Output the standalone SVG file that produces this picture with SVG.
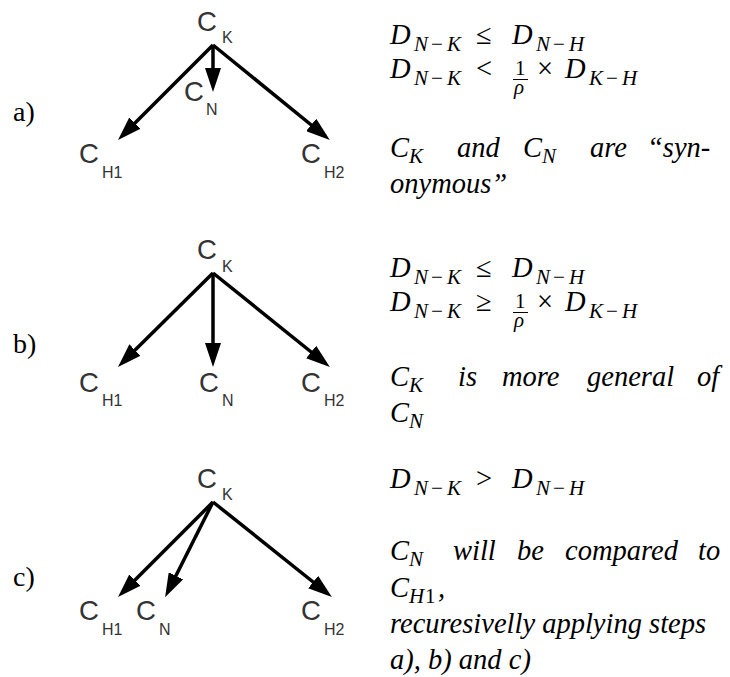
<svg xmlns="http://www.w3.org/2000/svg" width="730" height="677" viewBox="0 0 730 677">
<style>
.n{font-family:"Liberation Sans",Arial,sans-serif;fill:#333;font-size:27.5px}
.ns{font-family:"Liberation Sans",Arial,sans-serif;fill:#333;font-size:16px}
.lab{font-family:"Liberation Serif","Times New Roman",serif;font-size:28px;fill:#000}
.it{font-family:"Liberation Serif","Times New Roman",serif;font-style:italic;font-size:28.5px;fill:#000}
.sb{font-family:"Liberation Serif","Times New Roman",serif;font-style:italic;font-size:21px;fill:#000}
.sm{font-family:"Liberation Serif","Times New Roman",serif;font-size:21px;fill:#000}
.up{font-family:"Liberation Serif","Times New Roman",serif;font-size:28.5px;fill:#000}
.fr{font-family:"Liberation Serif","Times New Roman",serif;font-size:21px;fill:#000}
.e{stroke:#000;stroke-width:3.5;fill:none;marker-end:url(#ah)}
</style>
<defs>
<marker id="ah" viewBox="0 0 24 16" refX="12" refY="8" markerWidth="24" markerHeight="16" orient="auto" markerUnits="userSpaceOnUse"><path d="M0,0 L24,8 L0,16 z" fill="#000"/></marker>
</defs>
<rect width="730" height="677" fill="#fff"/>

<!-- panel labels -->
<text class="lab" x="13" y="121">a)</text>
<text class="lab" x="13" y="353">b)</text>
<text class="lab" x="13" y="586">c)</text>

<!-- Panel a -->
<g id="a-CK"><text class="n" x="197" y="31">C</text><text class="ns" x="222" y="43">K</text></g>
<g id="a-CN"><text class="n" x="184" y="101">C</text><text class="ns" x="206" y="115">N</text></g>
<g id="a-CH1"><text class="n" x="79" y="163">C</text><text class="ns" x="102" y="178">H1</text></g>
<g id="a-CH2"><text class="n" x="301" y="163">C</text><text class="ns" x="324" y="178">H2</text></g>
<g id="a-edges">
<path class="e" d="M213,45 L126.5,131.5"/>
<path class="e" d="M213,45 L213,80"/>
<path class="e" d="M213,45 L320.5,132.5"/>
</g>

<!-- Panel b -->
<g id="b-CK"><text class="n" x="197" y="259">C</text><text class="ns" x="222" y="272">K</text></g>
<g id="b-CH1"><text class="n" x="79" y="392">C</text><text class="ns" x="102" y="406">H1</text></g>
<g id="b-CN"><text class="n" x="199" y="392">C</text><text class="ns" x="222" y="406">N</text></g>
<g id="b-CH2"><text class="n" x="301" y="392">C</text><text class="ns" x="324" y="406">H2</text></g>
<g id="b-edges">
<path class="e" d="M213,273 L126.5,358.5"/>
<path class="e" d="M213,273 L213,355"/>
<path class="e" d="M213,273 L320.5,359.5"/>
</g>

<!-- Panel c -->
<g id="c-CK"><text class="n" x="197" y="488">C</text><text class="ns" x="222" y="500">K</text></g>
<g id="c-CH1"><text class="n" x="79" y="620">C</text><text class="ns" x="102" y="635">H1</text></g>
<g id="c-CN"><text class="n" x="136" y="620">C</text><text class="ns" x="159" y="635">N</text></g>
<g id="c-CH2"><text class="n" x="301" y="620">C</text><text class="ns" x="324" y="635">H2</text></g>
<g id="c-edges">
<path class="e" d="M213,502 L126.5,588.5"/>
<path class="e" d="M213,502 L170.5,586.5"/>
<path class="e" d="M213,502 L322.5,589.5"/>
</g>

<!-- Text a -->
<g id="text-a">
<text class="it" x="390" y="44">D</text><text class="sb" x="414" y="51">N</text><text class="sm" x="431" y="51">−</text><text class="sb" x="447" y="51">K</text>
<text class="up" x="476" y="44">≤</text>
<text class="it" x="512" y="44">D</text><text class="sb" x="536" y="51">N</text><text class="sm" x="553" y="51">−</text><text class="sb" x="569" y="51">H</text>
<text class="it" x="390" y="78">D</text><text class="sb" x="414" y="85">N</text><text class="sm" x="431" y="85">−</text><text class="sb" x="447" y="85">K</text>
<text class="up" x="476" y="78">&lt;</text>
<text class="fr" x="515" y="75">1</text>
<line x1="513" y1="79.5" x2="528" y2="79.5" stroke="#000" stroke-width="1"/>
<text class="sb" x="514" y="94">ρ</text>
<text class="up" x="537" y="78">×</text>
<text class="it" x="565" y="78">D</text><text class="sb" x="589" y="85">K</text><text class="sm" x="606" y="85">−</text><text class="sb" x="622" y="85">H</text>
<text class="it" x="390" y="157">C</text><text class="sb" x="409" y="163">K</text>
<text class="it" x="457" y="157">and</text>
<text class="it" x="523" y="157">C</text><text class="sb" x="542" y="163">N</text>
<text class="it" x="590" y="157">are</text>
<text class="it" x="647" y="157">“syn-</text>
<text class="it" x="390" y="193">onymous”</text>
</g>

<!-- Text b -->
<g id="text-b">
<text class="it" x="390" y="277">D</text><text class="sb" x="414" y="284">N</text><text class="sm" x="431" y="284">−</text><text class="sb" x="447" y="284">K</text>
<text class="up" x="476" y="277">≤</text>
<text class="it" x="512" y="277">D</text><text class="sb" x="536" y="284">N</text><text class="sm" x="553" y="284">−</text><text class="sb" x="569" y="284">H</text>
<text class="it" x="390" y="311">D</text><text class="sb" x="414" y="318">N</text><text class="sm" x="431" y="318">−</text><text class="sb" x="447" y="318">K</text>
<text class="up" x="476" y="311">≥</text>
<text class="fr" x="515" y="308">1</text>
<line x1="513" y1="312.5" x2="528" y2="312.5" stroke="#000" stroke-width="1"/>
<text class="sb" x="514" y="327">ρ</text>
<text class="up" x="537" y="311">×</text>
<text class="it" x="565" y="311">D</text><text class="sb" x="589" y="318">K</text><text class="sm" x="606" y="318">−</text><text class="sb" x="622" y="318">H</text>
<text class="it" x="390" y="386">C</text><text class="sb" x="409" y="392">K</text>
<text class="it" x="458" y="386">is</text>
<text class="it" x="502" y="386">more</text>
<text class="it" x="587" y="386">general</text>
<text class="it" x="697" y="386">of</text>
<text class="it" x="390" y="422">C</text><text class="sb" x="409" y="428">N</text>
</g>

<!-- Text c -->
<g id="text-c">
<text class="it" x="390" y="488">D</text><text class="sb" x="414" y="495">N</text><text class="sm" x="431" y="495">−</text><text class="sb" x="447" y="495">K</text>
<text class="up" x="476" y="488">&gt;</text>
<text class="it" x="512" y="488">D</text><text class="sb" x="536" y="495">N</text><text class="sm" x="553" y="495">−</text><text class="sb" x="569" y="495">H</text>
<text class="it" x="390" y="560">C</text><text class="sb" x="409" y="566">N</text>
<text class="it" x="453" y="560">will</text>
<text class="it" x="517" y="560">be</text>
<text class="it" x="565" y="560">compared</text>
<text class="it" x="698" y="560">to</text>
<text class="it" x="390" y="597">C</text><text class="sb" x="409" y="603">H</text><text class="sm" x="425" y="603">1</text><text class="it" x="438" y="597">,</text>
<text class="it" x="390" y="633">recuresivelly applying steps</text>
<text class="it" x="390" y="669">a), b) and c)</text>
</g>
</svg>
